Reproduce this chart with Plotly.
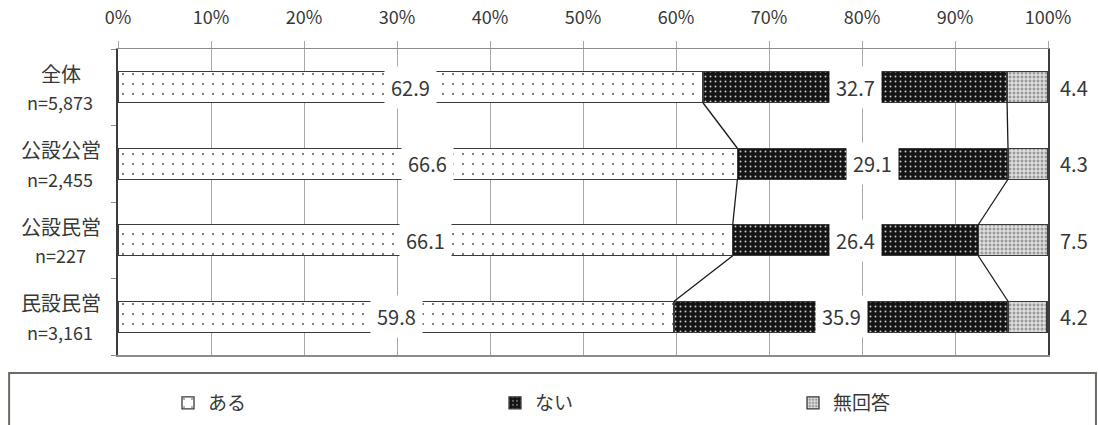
import plotly.graph_objects as go

# Survey results by facility type (percent of respondents)
categories = ["全体", "公設公営", "公設民営", "民設民営"]
sample_sizes = ["n=5,873", "n=2,455", "n=227", "n=3,161"]
aru = [62.9, 66.6, 66.1, 59.8]        # ある
nai = [32.7, 29.1, 26.4, 35.9]        # ない
muk = [4.4, 4.3, 7.5, 4.2]            # 無回答
series_names = ["ある", "ない", "無回答"]
tick_values = [0, 10, 20, 30, 40, 50, 60, 70, 80, 90, 100]
tick_labels = ["0%", "10%", "20%", "30%", "40%", "50%", "60%", "70%", "80%", "90%", "100%"]

FONT = "Noto Sans CJK JP"
TEXT = "#383838"
BAR_W = 0.405
ypos = list(range(len(categories)))

outline = dict(color="#3a3a3a", width=1.3)
patterns = [
    dict(shape=".", size=10, solidity=0.035, fgcolor="#606060", bgcolor="#ffffff", fillmode="replace"),
    dict(shape=".", size=5, solidity=0.12, fgcolor="#c8c8c8", bgcolor="#141414", fillmode="replace"),
    dict(shape="+", size=4, solidity=0.45, fgcolor="#f4f4f4", bgcolor="#9a9a9a", fillmode="replace"),
]

fig = go.Figure()
legend_ids = ["legend", "legend2", "legend3"]
for vals, name, pat, lg in zip([aru, nai, muk], series_names, patterns, legend_ids):
    fig.add_trace(go.Bar(
        x=vals, y=ypos, orientation="h", width=BAR_W, name=name,
        marker=dict(color=pat["bgcolor"], pattern=pat, line=outline),
        legend=lg, hoverinfo="skip",
    ))

# series lines joining segment boundaries of neighbouring bars
cum1 = aru
cum2 = [a + b for a, b in zip(aru, nai)]
lx, ly = [], []
for cum in (cum1, cum2):
    for i in range(len(categories) - 1):
        lx += [cum[i], cum[i + 1], None]
        ly += [i + BAR_W / 2, i + 1 - BAR_W / 2, None]
fig.add_trace(go.Scatter(x=lx, y=ly, mode="lines", line=dict(color="#1a1a1a", width=1.3),
                         showlegend=False, hoverinfo="skip"))

annotations = []
# value labels: centred on the first two segments, outside the bar for 無回答
for i in ypos:
    starts = [0, aru[i], aru[i] + nai[i]]
    for j, v in enumerate([aru[i], nai[i]]):
        annotations.append(dict(
            x=starts[j] + v / 2, y=i, xref="x", yref="y", text=f"{v:.1f}",
            showarrow=False, bgcolor="#ffffff", borderpad=6,
            font=dict(family=FONT, size=20, color=TEXT), yanchor="middle"))
    annotations.append(dict(
        x=100, y=i, xref="x", yref="y", text=f"{muk[i]:.1f}", xanchor="left", xshift=10,
        showarrow=False, font=dict(family=FONT, size=20, color=TEXT), yanchor="middle"))

# category labels with sample size underneath
for i, (c, n) in enumerate(zip(categories, sample_sizes)):
    annotations.append(dict(x=0, y=i, xref="x", yref="y", text=c, showarrow=False,
                            xanchor="center", xshift=-57, yshift=14,
                            font=dict(family=FONT, size=20, color=TEXT)))
    annotations.append(dict(x=0, y=i, xref="x", yref="y", text=n, showarrow=False,
                            xanchor="center", xshift=-58, yshift=-15,
                            font=dict(family=FONT, size=18, color=TEXT)))

plot_left, plot_right = 117.5, 1048.5
plot_top, plot_bottom = 49.3, 355.0
W, H = 1098, 425
pw = plot_right - plot_left
ph = plot_bottom - plot_top

def px_to_paper_x(px):
    return (px - plot_left) / pw

def px_to_paper_y(py):
    return (plot_bottom - py) / ph

# frame around the legend row
shapes = [dict(type="rect", xref="paper", yref="paper",
               x0=px_to_paper_x(8.5), x1=px_to_paper_x(1096.5),
               y0=px_to_paper_y(460), y1=px_to_paper_y(373),
               line=dict(color="#6e6a66", width=2), fillcolor="rgba(0,0,0,0)", layer="above")]

# legends placed in container coordinates so they never push the margins
legend_common = dict(orientation="h", yanchor="middle", xanchor="left",
                     xref="container", yref="container",
                     font=dict(family=FONT, size=19, color=TEXT),
                     bgcolor="rgba(0,0,0,0)", itemwidth=30, borderwidth=0)
legend_x = [168, 495, 793]
legend_y = 1 - 403 / H

fig.update_layout(
    width=W, height=H,
    margin=dict(l=plot_left, r=W - plot_right, t=plot_top, b=H - plot_bottom, pad=0, autoexpand=False),
    barmode="stack", bargap=0,
    plot_bgcolor="#ffffff", paper_bgcolor="#ffffff",
    font=dict(family=FONT, color=TEXT),
    xaxis=dict(range=[0, 100], side="top", tickmode="array", tickvals=tick_values, ticktext=tick_labels,
               showgrid=True, gridcolor="#a8a8a8", gridwidth=1, zeroline=False,
               ticks="outside", ticklen=7, tickcolor="#a8a8a8", tickwidth=1,
               showline=True, linecolor="#8c8c8c", linewidth=1.5, mirror=True, automargin=False,
               tickfont=dict(family=FONT, size=18, color=TEXT), ticklabelstandoff=9, fixedrange=True),
    yaxis=dict(range=[3.5, -0.5], tickmode="array", tickvals=[-0.5, 0.5, 1.5, 2.5, 3.5],
               showticklabels=False, ticks="outside", ticklen=5, tickcolor="#8c8c8c",
               showgrid=False, zeroline=False, showline=True, linecolor="#3c3c3c", linewidth=1.6,
               mirror=True, automargin=False, fixedrange=True),
    annotations=annotations,
    shapes=shapes,
    legend=dict(x=legend_x[0] / W, y=legend_y, **legend_common),
    legend2=dict(x=legend_x[1] / W, y=legend_y, **legend_common),
    legend3=dict(x=legend_x[2] / W, y=legend_y, **legend_common),
    showlegend=True,
)

fig.write_html("out.html", config=dict(displayModeBar=False, staticPlot=True))
